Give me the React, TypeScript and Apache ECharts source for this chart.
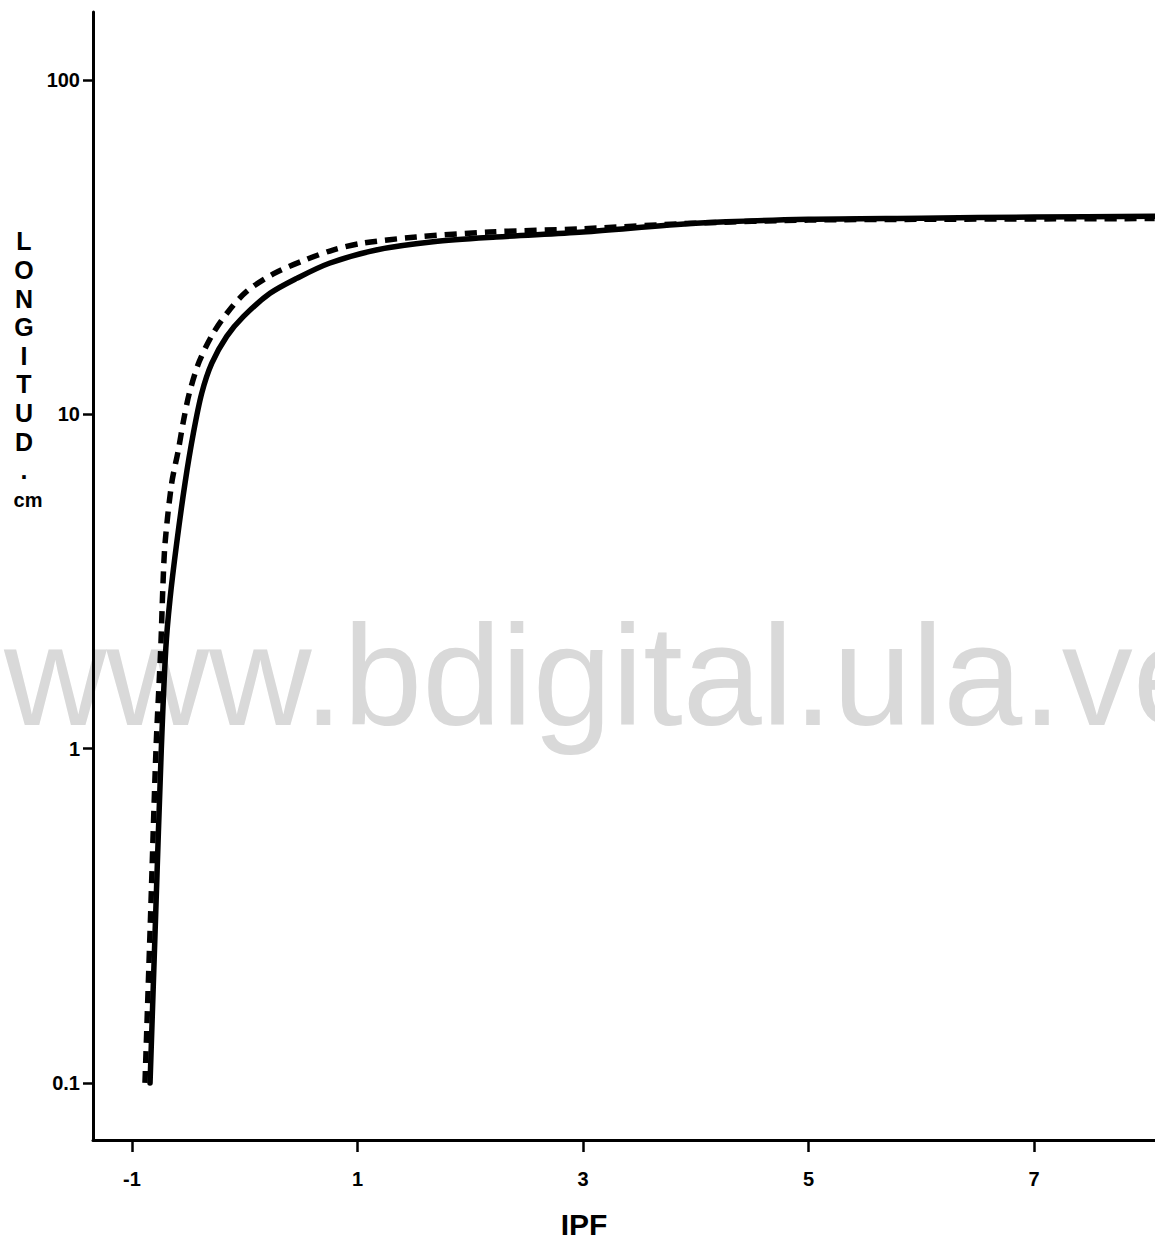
import React, { useEffect, useRef } from 'react';
import * as echarts from 'echarts';

// Longitud (cm) versus IPF, log-scaled vertical axis
const solidCurve: [number, number][] = [
  [-0.84, 0.1], [-0.79, 0.32], [-0.74, 1.0], [-0.70, 2.0], [-0.663, 2.8],
  [-0.604, 4.11], [-0.53, 6.22], [-0.456, 8.77], [-0.382, 11.55], [-0.293, 14.2],
  [-0.16, 17.1], [-0.013, 19.6], [0.224, 23.0], [0.461, 25.5], [0.75, 28.3],
  [1.166, 31], [1.67, 32.8], [2.23, 33.9], [3, 35.1], [4, 37.3], [5, 38.3],
  [6, 38.6], [7, 38.9], [8.07, 39.1],
];

const dashedCurve: [number, number][] = [
  [-0.885, 0.1], [-0.835, 0.32], [-0.787, 1.0], [-0.745, 2.0], [-0.727, 3.0],
  [-0.707, 4.11], [-0.648, 6.22], [-0.589, 7.82], [-0.545, 9.5], [-0.492, 11.55],
  [-0.403, 14.4], [-0.279, 17.5], [-0.146, 20.3], [0.017, 23.3], [0.253, 26.3],
  [0.519, 28.8], [0.781, 31], [1.047, 32.5], [1.52, 33.9], [2.173, 35.1],
  [3, 35.9], [4, 37.3], [5, 38.1], [6, 38.3], [7, 38.4], [8.07, 38.5],
];

const xTicks = [-1, 1, 3, 5, 7];
const yTicks = [0.1, 1, 10, 100];
const yTickLabels = ['0.1', '1', '10', '100'];
const xTitle = 'IPF';
const yTitle = ['L', 'O', 'N', 'G', 'I', 'T', 'U', 'D', '.'];
const yUnit = 'cm';
const watermark = 'www.bdigital.ula.ve';

const X_MIN = -1.346;
const X_MAX = 8.073;
const Y_MIN = 0.0675;
const Y_MAX = 159.7;

const FONT = '"Liberation Sans", Arial, sans-serif';

export default function App() {
  const ref = useRef<HTMLDivElement>(null);

  useEffect(() => {
    const chart = echarts.init(ref.current!, null, { renderer: 'svg' });
    const yTickLogs = yTicks.map((t) => Math.log10(t));

    chart.setOption({
      animation: false,
      backgroundColor: '#ffffff',
      grid: { left: 93, right: 0, top: 12, bottom: 99 },
      xAxis: {
        type: 'value',
        min: X_MIN,
        max: X_MAX,
        axisLine: { show: true, onZero: false, lineStyle: { color: '#000', width: 3 } },
        axisTick: {
          show: true,
          customValues: xTicks,
          length: 12,
          lineStyle: { color: '#000', width: 2.5 },
        },
        axisLabel: {
          customValues: xTicks,
          margin: 29,
          color: '#000',
          fontFamily: FONT,
          fontWeight: 'bold',
          fontSize: 20,
        },
        splitLine: { show: false },
      },
      yAxis: [
        {
          type: 'log',
          logBase: 10,
          min: Y_MIN,
          max: Y_MAX,
          position: 'left',
          axisLine: { show: true, onZero: false, lineStyle: { color: '#000', width: 3 } },
          axisTick: { show: false },
          axisLabel: { show: false },
          splitLine: { show: false },
        },
        {
          // tick marks and labels for the decades, in log10 units
          type: 'value',
          min: Math.log10(Y_MIN),
          max: Math.log10(Y_MAX),
          position: 'left',
          axisLine: { show: false, onZero: false },
          axisTick: {
            show: true,
            customValues: yTickLogs,
            length: 10,
            lineStyle: { color: '#000', width: 2.5 },
          },
          axisLabel: {
            customValues: yTickLogs,
            margin: 13,
            color: '#000',
            fontFamily: FONT,
            fontWeight: 'bold',
            fontSize: 20,
            formatter: (v: number) => {
              const i = yTickLogs.findIndex((t) => Math.abs(t - v) < 1e-6);
              return i >= 0 ? yTickLabels[i] : '';
            },
          },
          splitLine: { show: false },
        },
      ],
      graphic: [
        {
          type: 'text',
          z: -1,
          x: 4,
          y: 675,
          silent: true,
          style: {
            text: watermark,
            font: `142px ${FONT}`,
            fill: '#d9d9d9',
            textAlign: 'left',
            textVerticalAlign: 'middle',
          },
        },
        {
          type: 'text',
          x: 24,
          y: 227,
          style: {
            text: yTitle.join('\n'),
            font: `bold 25px ${FONT}`,
            lineHeight: 28.6,
            fill: '#000',
            textAlign: 'center',
            textVerticalAlign: 'top',
          },
        },
        {
          type: 'text',
          x: 28,
          y: 500,
          style: {
            text: yUnit,
            font: `bold 20px ${FONT}`,
            fill: '#000',
            textAlign: 'center',
            textVerticalAlign: 'middle',
          },
        },
        {
          type: 'text',
          x: 584,
          y: 1224,
          style: {
            text: xTitle,
            font: `bold 30px ${FONT}`,
            fill: '#000',
            textAlign: 'center',
            textVerticalAlign: 'middle',
          },
        },
      ],
      series: [
        {
          name: 'solid',
          type: 'line',
          yAxisIndex: 0,
          data: solidCurve,
          showSymbol: false,
          smooth: 0.3,
          lineStyle: { color: '#000', width: 5.5, type: 'solid', cap: 'round', join: 'round' },
          z: 3,
        },
        {
          name: 'dashed',
          type: 'line',
          yAxisIndex: 0,
          data: dashedCurve,
          showSymbol: false,
          smooth: 0.3,
          lineStyle: { color: '#000', width: 5.5, type: [12, 8] },
          z: 3,
        },
      ],
    });

    return () => chart.dispose();
  }, []);

  return (
    <div
      ref={ref}
      style={{ position: 'absolute', left: 0, top: 0, width: 1155, height: 1239 }}
    />
  );
}
